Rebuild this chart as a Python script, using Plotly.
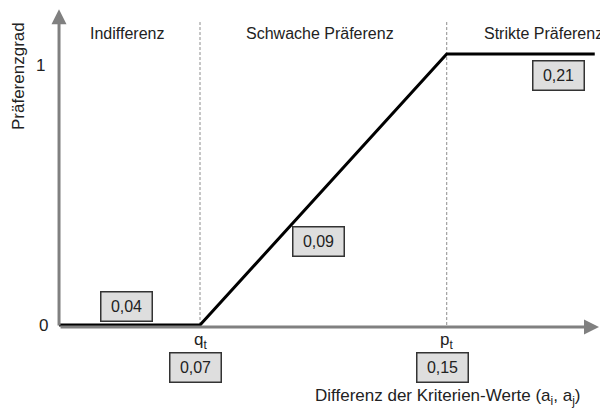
import plotly.graph_objects as go

# ---- data ----
diff_values = [0.0, 1.0, 2.75, 3.8]        # Differenz der Kriterien-Werte
pref_values = [0.0, 0.0, 1.0, 1.0]         # Präferenzgrad
threshold_x = [1.0, 2.75]                  # q_t, p_t
threshold_labels = ["q<sub>t</sub>", "p<sub>t</sub>"]
region_labels = ["Indifferenz", "Schwache Präferenz", "Strikte Präferenz"]
box_labels = ["0,04", "0,07", "0,09", "0,15", "0,21"]
y_tick_vals = [0, 1]
y_tick_text = ["0", "1"]
x_title = "Differenz der Kriterien-Werte (a<sub>i</sub>, a<sub>j</sub>)"
y_title = "Präferenzgrad"

FONT = "Liberation Sans, Arial, sans-serif"
TXT = "#222222"
AX = "#808080"

fig = go.Figure()

# dashed threshold lines
for tx in threshold_x:
    fig.add_trace(go.Scatter(x=[tx, tx], y=[0, 1.125], mode="lines",
                             line=dict(color="#8c8c8c", width=1, dash="3px,2px"),
                             hoverinfo="skip", showlegend=False))

# preference function
fig.add_trace(go.Scatter(x=diff_values, y=pref_values, mode="lines",
                         line=dict(color="black", width=3),
                         hoverinfo="skip", showlegend=False))

ann = []
# axes as arrows
ann.append(dict(x=3.83, y=-0.007, ax=0, ay=-0.007, xref="x", yref="y", axref="x", ayref="y",
                text="", showarrow=True, arrowhead=2, arrowsize=1, arrowwidth=3, arrowcolor=AX))
ann.append(dict(x=0, y=1.165, ax=0, ay=-0.007, xref="x", yref="y", axref="x", ayref="y",
                text="", showarrow=True, arrowhead=2, arrowsize=1, arrowwidth=3, arrowcolor=AX))

# region labels
for lbl, xx in zip(region_labels, [0.482, 1.851, 3.433]):
    ann.append(dict(x=xx, y=1.077, xref="x", yref="y", text=lbl, showarrow=False,
                    font=dict(family=FONT, size=16, color=TXT)))

# threshold labels
for lbl, xx in zip(threshold_labels, threshold_x):
    ann.append(dict(x=xx, y=-0.058, xref="x", yref="y", text=lbl, showarrow=False,
                    font=dict(family=FONT, size=17, color=TXT)))

# y tick labels
for v, t, xx, yy in zip(y_tick_vals, y_tick_text, [-0.113, -0.135], [0.0, 0.959]):
    ann.append(dict(x=xx, y=yy, xref="x", yref="y", text=t, showarrow=False,
                    font=dict(family=FONT, size=17, color=TXT)))

# boxed values
box_pos = [(0.479, 0.070), (0.965, -0.155), (1.837, 0.31), (2.723, -0.155), (3.546, 0.922)]
for lbl, (xx, yy) in zip(box_labels, box_pos):
    ann.append(dict(x=xx, y=yy, xref="x", yref="y", text=lbl, showarrow=False,
                    font=dict(family=FONT, size=16, color=TXT),
                    bgcolor="#dedede", bordercolor="#333333", borderwidth=1.5,
                    borderpad=3, width=44, height=22))

# axis titles
ann.append(dict(x=2.759, y=-0.266, xref="x", yref="y", text=x_title, showarrow=False,
                font=dict(family=FONT, size=17, color=TXT)))
ann.append(dict(x=-0.291, y=0.919, xref="x", yref="y", text=y_title, showarrow=False,
                textangle=-90, font=dict(family=FONT, size=17, color=TXT)))

fig.update_layout(
    width=600, height=407,
    margin=dict(l=0, r=0, t=0, b=0),
    paper_bgcolor="white", plot_bgcolor="white",
    xaxis=dict(range=[-0.362, 3.894], visible=False, fixedrange=True),
    yaxis=dict(range=[-0.332, 1.170], visible=False, fixedrange=True),
    annotations=ann,
    showlegend=False,
)

fig.write_html("out.html")
